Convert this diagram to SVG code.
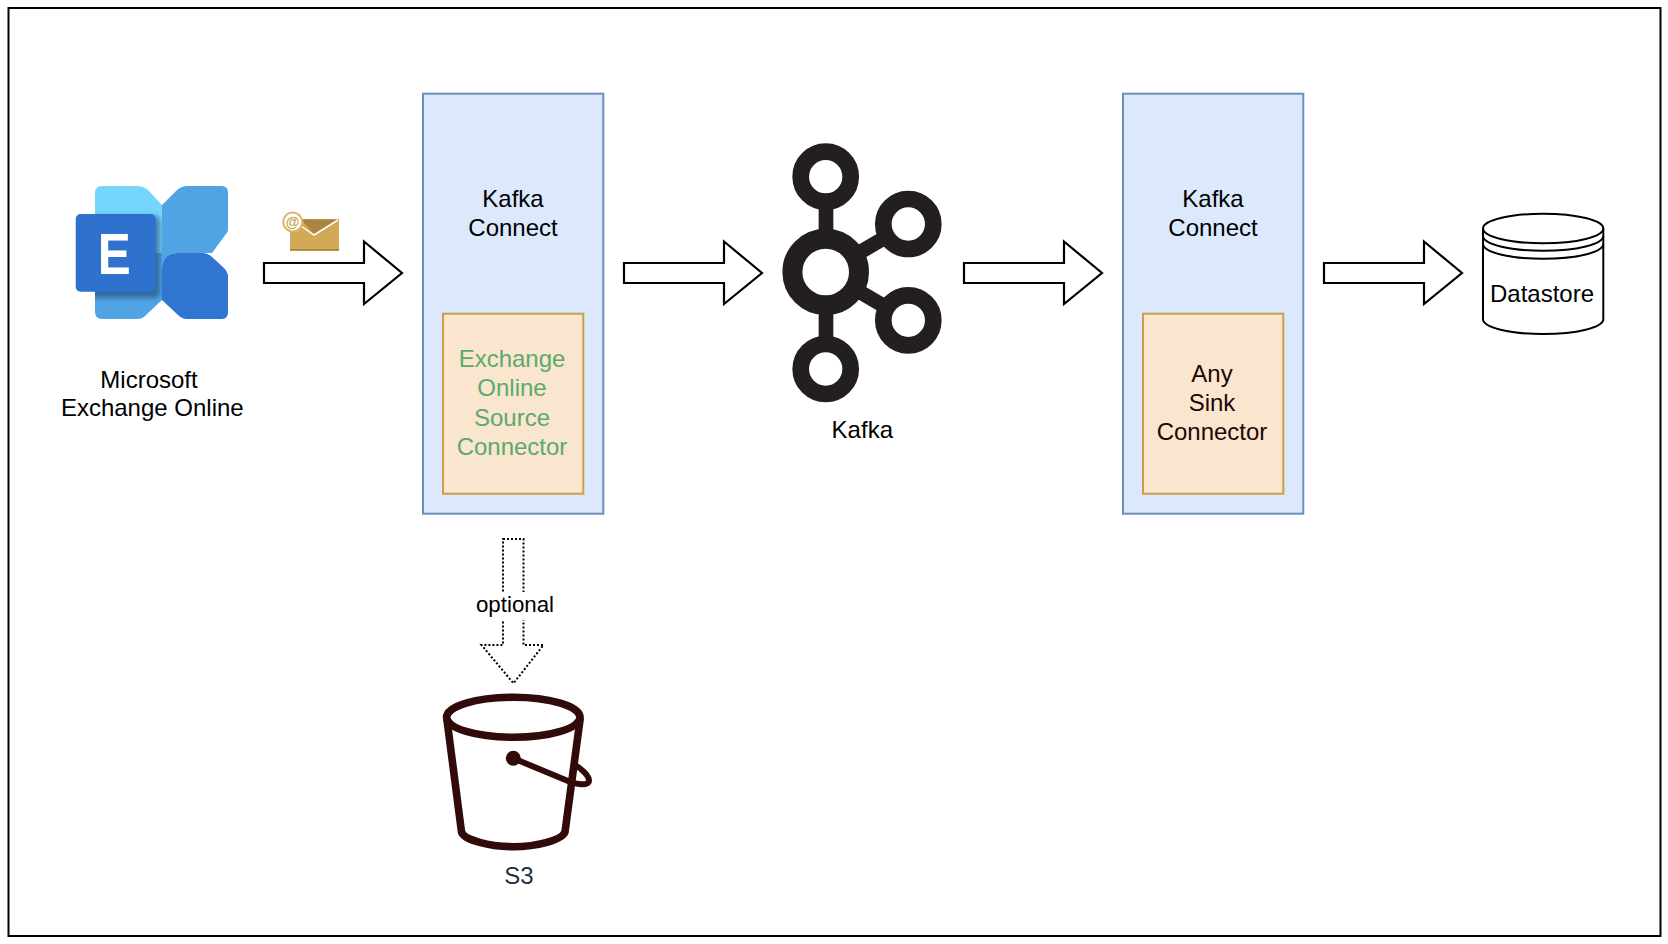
<svg xmlns="http://www.w3.org/2000/svg" width="1668" height="944" viewBox="0 0 1668 944">
<defs>
<style>
text{font-family:"Liberation Sans",Arial,sans-serif;font-size:24px;text-anchor:middle;fill:#000}
.outer{fill:#dce8fb;stroke:#6c8ebf;stroke-width:2}
.inner{fill:#fae5cf;stroke:#c99f48;stroke-width:2}
.arrow{fill:#fff;stroke:#000;stroke-width:2.200}
.ring{fill:#fff;stroke:#231f20;stroke-width:16.700}
.bk{fill:none;stroke:#330a0a;stroke-width:7.600;stroke-linecap:round;stroke-linejoin:round}
.green{fill:#5aaa6e}
.dark{fill:#1e0505}
</style>
<filter id="soft" x="-20%" y="-20%" width="140%" height="140%"><feGaussianBlur stdDeviation="2.500"/></filter>
<clipPath id="icon"><path d="M95 186H162V319H95Z"/></clipPath>
<path id="fat" class="arrow" d="M0 -10H100V-31.500L138 0L100 31L100 10H0Z"/>
</defs>
<rect width="1668" height="944" fill="#fff"/>
<rect id="frame" x="8.500" y="8" width="1652" height="928" fill="#fff" stroke="#000" stroke-width="2"/>

<g id="connectors">
<use href="#fat" x="264" y="273"/>
<use href="#fat" x="624" y="273"/>
<use href="#fat" x="964" y="273"/>
<use href="#fat" x="1324" y="273"/>
<path d="M503 539H523.500V645H543.500L513.500 683.300L481.500 645H503Z" fill="#fff" stroke="#000" stroke-width="2" stroke-dasharray="2 2"/>
<rect x="476" y="592" width="78" height="28" fill="#fff"/>
<text x="515" y="612" style="font-size:22.300px">optional</text>
</g>

<g id="exchange">
<path d="M95 193Q95 186 102 186H137Q143 186 148 190L162 205V253H95Z" fill="#75d5fb"/>
<path d="M95 253H162V300L147 314Q143 319 137 319H102Q95 319 95 312Z" fill="#50a4e4"/>
<path d="M162 205L177 190Q182 186 187 186H222Q228 186 228 193V230Q228 232 226 234L212 253H178Q162 253 162 269Z" fill="#50a4e4"/>
<path d="M178 253H203Q208 253 212 257L224 268Q228 272 228 277V312Q228 319 222 319H187Q182 319 178 315L162 300V269Q162 253 178 253Z" fill="#3076d0"/>
<g clip-path="url(#icon)"><rect x="80" y="216" width="80" height="82" rx="5" fill="#12305c" fill-opacity=".5" filter="url(#soft)"/></g>
<rect x="75.700" y="214" width="80" height="77.700" rx="5" fill="#2f72ce"/>
<text x="114.200" y="274" textLength="33" lengthAdjust="spacingAndGlyphs" style="font-size:58px;font-weight:700;fill:#fff">E</text>
<text x="149" y="388">Microsoft</text>
<text x="152.300" y="416.300">Exchange Online</text>
</g>

<g id="email">
<rect x="290" y="219.300" width="49" height="31.400" fill="#d0a856"/>
<rect x="290" y="249" width="49" height="1.700" fill="#a9853f"/>
<path d="M301 219.300H339L314 234Z" fill="#a9853f"/>
<path d="M301 226L314 235L338 220" fill="none" stroke="#fff" stroke-width="1.500"/>
<circle cx="292.700" cy="222" r="9.500" fill="#fff" stroke="#deb56a" stroke-width="2"/>
<text x="292.700" y="226.800" style="font-size:14px;font-weight:700;fill:#c99f48">@</text>
</g>

<g id="kafka-connect-source">
<rect class="outer" x="423" y="93.700" width="180.300" height="420"/>
<text x="513" y="206.700">Kafka</text>
<text x="513" y="235.700">Connect</text>
<rect class="inner" x="443" y="313.700" width="140.300" height="180"/>
<text class="green" x="512" y="367.300">Exchange</text>
<text class="green" x="512" y="396">Online</text>
<text class="green" x="512" y="426">Source</text>
<text class="green" x="512" y="455">Connector</text>
</g>

<g id="kafka">
<path d="M826 200V350M826 272L908.300 224M826 272L908.300 320.300" stroke="#231f20" stroke-width="14.700" fill="none"/>
<circle class="ring" cx="825.700" cy="176.700" r="25"/>
<circle class="ring" cx="908.300" cy="224" r="25"/>
<circle class="ring" cx="908.300" cy="320.300" r="25"/>
<circle class="ring" cx="825.700" cy="369" r="25"/>
<circle cx="825.700" cy="272" r="33.300" fill="#fff" stroke="#231f20" stroke-width="20"/>
<text x="862.300" y="438">Kafka</text>
</g>

<g id="kafka-connect-sink">
<rect class="outer" x="1123" y="93.700" width="180.300" height="420"/>
<text x="1213" y="206.700">Kafka</text>
<text x="1213" y="235.700">Connect</text>
<rect class="inner" x="1143" y="313.700" width="140.300" height="180"/>
<text class="dark" x="1212" y="382.300">Any</text>
<text class="dark" x="1212" y="411.300">Sink</text>
<text class="dark" x="1212" y="440">Connector</text>
</g>

<g id="datastore">
<path d="M1483 228.500A60 14.700 0 0 1 1603.300 228.500V319.300A60 14.700 0 0 1 1483 319.300Z" fill="#fff" stroke="#000" stroke-width="2"/>
<path d="M1483 228.500A60 14.700 0 0 0 1603.300 228.500M1483 236A60 14.700 0 0 0 1603.300 236M1483 244A60 14.700 0 0 0 1603.300 244" fill="none" stroke="#000" stroke-width="2"/>
<text x="1542" y="301.500">Datastore</text>
</g>

<g id="s3">
<ellipse class="bk" cx="513.300" cy="717.300" rx="66.700" ry="20"/>
<path class="bk" d="M447 720L461.500 832C464 840 490 846.700 513.300 846.700C537 846.700 562 840 565 832L580 720"/>
<path class="bk" style="stroke-width:6" d="M513.300 758.300L568 781C578 785 589 786 589 780.500C589 776 582 769 575 765"/>
<circle cx="513.300" cy="758.300" r="7.500" fill="#330a0a"/>
<text x="519" y="884.300" style="fill:#232f3e">S3</text>
</g>
</svg>
